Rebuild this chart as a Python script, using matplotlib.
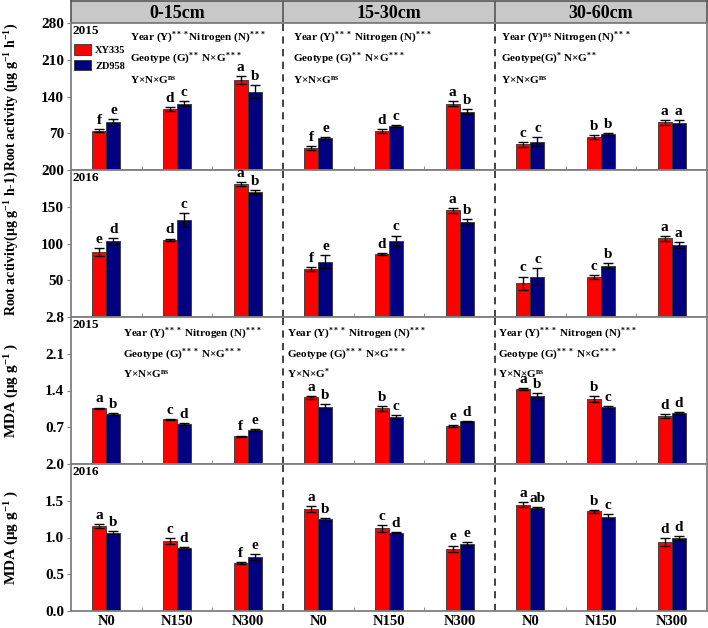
import matplotlib
matplotlib.use("Agg")
import matplotlib.pyplot as plt
import numpy as np

plt.rcParams['font.family'] = ['Liberation Serif', 'DejaVu Serif']
plt.rcParams['font.weight'] = 'bold'
plt.rcParams['mathtext.fontset'] = 'custom'
plt.rcParams['mathtext.rm'] = 'Liberation Serif:bold'
plt.rcParams['mathtext.it'] = 'Liberation Serif:bold'
plt.rcParams['mathtext.bf'] = 'Liberation Serif:bold'

# ---------------- data ----------------
groups = ['N0', 'N150', 'N300']
depths = ['0-15cm', '15-30cm', '30-60cm']
cultivars = ['XY335', 'ZD958']
years = ['2015', '2016', '2015', '2016']

ra2015_xy = [75, 116, 172, 42, 74, 126, 49, 63, 91]
ra2015_zd = [91, 126, 149, 61, 84, 111, 54, 68, 90]
ra2015_xy_err = [3, 3.5, 7.5, 4.4, 4.4, 5, 4.4, 4, 4.4]
ra2015_zd_err = [6, 5, 12, 2.5, 2.5, 4.4, 8.3, 2, 4.4]
ra2015_xy_let = ['f', 'd', 'a', 'f', 'd', 'a', 'c', 'b', 'a']
ra2015_zd_let = ['e', 'c', 'b', 'e', 'c', 'b', 'c', 'b', 'a']

ra2016_xy = [88, 105, 181, 65, 86, 145, 46, 54, 107]
ra2016_zd = [103, 132, 170, 75, 104, 129, 55, 70, 98]
ra2016_xy_err = [5.4, 1.8, 2.3, 2.5, 1.4, 3.4, 9, 2.7, 3.2]
ra2016_zd_err = [4.3, 10, 2.3, 8.8, 6.8, 4, 11.8, 4, 4.5]
ra2016_xy_let = ['e', 'd', 'a', 'f', 'd', 'a', 'c', 'c', 'a']
ra2016_zd_let = ['d', 'c', 'b', 'e', 'c', 'b', 'c', 'b', 'a']

mda2015_xy = [1.06, 0.85, 0.53, 1.27, 1.06, 0.72, 1.43, 1.24, 0.91]
mda2015_zd = [0.95, 0.76, 0.65, 1.09, 0.895, 0.81, 1.295, 1.08, 0.965]
mda2015_xy_err = [0.015, 0.015, 0.012, 0.025, 0.045, 0.02, 0.022, 0.06, 0.041]
mda2015_zd_err = [0.02, 0.015, 0.012, 0.05, 0.038, 0.013, 0.063, 0.025, 0.022]
mda2015_xy_let = ['a', 'c', 'f', 'a', 'b', 'e', 'a', 'b', 'd']
mda2015_zd_let = ['b', 'd', 'e', 'b', 'c', 'd', 'b', 'c', 'd']

mda2016_xy = [1.157, 0.952, 0.657, 1.383, 1.125, 0.848, 1.446, 1.356, 0.943]
mda2016_zd = [1.065, 0.857, 0.735, 1.247, 1.065, 0.907, 1.40, 1.28, 0.99]
mda2016_xy_err = [0.023, 0.036, 0.014, 0.041, 0.05, 0.043, 0.036, 0.016, 0.052]
mda2016_zd_err = [0.02, 0.014, 0.045, 0.018, 0.007, 0.036, 0.016, 0.034, 0.03]
mda2016_xy_let = ['a', 'c', 'f', 'a', 'c', 'e', 'a', 'b', 'd']
mda2016_zd_let = ['b', 'd', 'e', 'b', 'd', 'e', 'ab', 'c', 'd']

ylabels = ['Root activity (μg g$^{-1}$ h$^{-1}$)',
           'Root activity(μg g$^{-1}$ h-1)',
           'MDA (μg g$^{-1}$ )',
           'MDA (μg g$^{-1}$ )']
ylabel_sizes = [10, 10, 11, 11]
ylims = [280, 200, 2.8, 2.0]
yticks = [[70, 140, 210, 280], [50, 100, 150, 200],
          [0.7, 1.4, 2.1, 2.8], [0.0, 0.5, 1.0, 1.5, 2.0]]
ytick_fmt = ['{:.0f}', '{:.0f}', '{:.1f}', '{:.1f}']

stats_root = [
    ['Year (Y)$^{***}$Nitrogen (N)$^{***}$', 'Geotype (G)$^{**}$ N×G$^{***}$', 'Y×N×G$^{ns}$'],
    ['Year (Y)$^{***}$ Nitrogen (N)$^{***}$', 'Geotype (G)$^{**}$ N×G$^{***}$', 'Y×N×G$^{ns}$'],
    ['Year (Y)$^{ns}$ Nitrogen (N)$^{***}$', 'Geotype(G)$^{*}$ N×G$^{**}$', 'Y×N×G$^{ns}$'],
]
stats_mda = [
    ['Year (Y)$^{***}$ Nitrogen (N)$^{***}$', 'Geotype (G)$^{***}$ N×G$^{***}$', 'Y×N×G$^{ns}$'],
    ['Year (Y)$^{***}$ Nitrogen (N)$^{***}$', 'Geotype (G)$^{***}$ N×G$^{***}$', 'Y×N×G$^{*}$'],
    ['Year (Y)$^{***}$ Nitrogen (N)$^{***}$', 'Geotype (G)$^{***}$ N×G$^{***}$', 'Y×N×G$^{ns}$'],
]

rows = [
    (ra2015_xy, ra2015_zd, ra2015_xy_err, ra2015_zd_err, ra2015_xy_let, ra2015_zd_let),
    (ra2016_xy, ra2016_zd, ra2016_xy_err, ra2016_zd_err, ra2016_xy_let, ra2016_zd_let),
    (mda2015_xy, mda2015_zd, mda2015_xy_err, mda2015_zd_err, mda2015_xy_let, mda2015_zd_let),
    (mda2016_xy, mda2016_zd, mda2016_xy_err, mda2016_zd_err, mda2016_xy_let, mda2016_zd_let),
]

RED = '#FF0000'
BLUE = '#000080'
GRAY = '#7f7f7f'

W, H = 708, 628
fig = plt.figure(figsize=(W / 100, H / 100), dpi=100)

left_px, right_px = 71, 707
row_edges = [23, 170, 317, 464, 611]


def fx(px):
    return px / W


def fy(py):
    return 1 - py / H


# header
hax = fig.add_axes([fx(left_px), fy(23), fx(right_px - left_px), (23 - 1) / H])
hax.set_xlim(-0.5, 8.5)
hax.set_ylim(0, 1)
hax.set_facecolor('#c8c8c8')
for s in hax.spines.values():
    s.set_color('#555555')
    s.set_linewidth(1.2)
hax.set_xticks([])
hax.set_yticks([])
for j, d in enumerate(depths):
    hax.text(3 * j + 1, 0.45, d, ha='center', va='center', fontsize=13, fontweight='bold')
    if j > 0:
        hax.axvline(3 * j - 0.5, color='#555555', lw=1.2)

x = np.arange(9)
bw = 0.2
for r in range(4):
    top, bot = row_edges[r], row_edges[r + 1]
    hpx = bot - top
    ax = fig.add_axes([fx(left_px), fy(bot), fx(right_px - left_px), hpx / H])
    xy, zd, xye, zde, xyl, zdl = rows[r]
    b1 = ax.bar(x - bw / 2, xy, bw, color=RED, edgecolor='#333333', linewidth=0.6,
                yerr=xye, capsize=3.5, error_kw=dict(elinewidth=1, capthick=1, ecolor='black'),
                label=cultivars[0], zorder=2)
    b2 = ax.bar(x + bw / 2, zd, bw, color=BLUE, edgecolor='#333333', linewidth=0.6,
                yerr=zde, capsize=3.5, error_kw=dict(elinewidth=1, capthick=1, ecolor='black'),
                label=cultivars[1], zorder=2)
    for i in range(9):
        ax.annotate(xyl[i], (x[i] - bw / 2, xy[i] + xye[i]), xytext=(0, 1.5),
                    textcoords='offset points', ha='center', va='bottom',
                    fontsize=11, fontweight='bold')
        ax.annotate(zdl[i], (x[i] + bw / 2, zd[i] + zde[i]), xytext=(0, 1.5),
                    textcoords='offset points', ha='center', va='bottom',
                    fontsize=11, fontweight='bold')
    ax.set_xlim(-0.5, 8.5)
    ax.set_ylim(0, ylims[r])
    for xv in (2.5, 5.5):
        ax.axvline(xv, color='#333333', lw=1.3, ls=(0, (4, 3)), zorder=1)
    ax.set_yticks(yticks[r])
    ax.set_yticklabels([ytick_fmt[r].format(v) for v in yticks[r]])
    ax.tick_params(axis='y', direction='out', length=3, color=GRAY, labelsize=11, pad=2)
    if r == 3:
        ax.set_xticks(x)
        ax.set_xticklabels(groups * 3)
        ax.tick_params(axis='x', length=0, labelsize=10.5, pad=3)
    else:
        ax.set_xticks([])
    ax.set_xticks([0.5, 1.5, 3.5, 4.5, 6.5, 7.5], minor=True)
    ax.tick_params(axis='x', which='minor', direction='in', length=3, color=GRAY)
    for lab in ax.get_yticklabels() + ax.get_xticklabels():
        lab.set_fontweight('bold')
    for s in ax.spines.values():
        s.set_color(GRAY)
        s.set_linewidth(1.3)
    ax.set_ylabel(ylabels[r], fontsize=ylabel_sizes[r], fontweight='bold')
    ax.yaxis.label.set_va('center')
    ax.yaxis.set_label_coords(-(left_px - 12) / (right_px - left_px), 0.5)
    ax.text(0.003, 0.985, years[r], transform=ax.transAxes, ha='left', va='top',
            fontsize=9.5, fontweight='bold')
    if r == 0:
        ax.legend(handles=[b1, b2], loc='upper left', bbox_to_anchor=(0.002, 0.87),
                  frameon=False, handlelength=1.55, handleheight=1.2,
                  labelspacing=0.45, handletextpad=0.45, borderaxespad=0.0, borderpad=0.2,
                  prop=dict(weight='bold', size=7.5))
    if r in (0, 2):
        stats = stats_root if r == 0 else stats_mda
        xs_px = [130, 293, 501] if r == 0 else [123, 287, 498]
        ys_px = [15, 36, 57] if r == 0 else [17, 38, 57]
        for j in range(3):
            for k in range(3):
                ax.text((xs_px[j] - left_px) / (right_px - left_px),
                        1 - ys_px[k] / hpx, stats[j][k],
                        transform=ax.transAxes, ha='left', va='center',
                        fontsize=8, fontweight='bold')

fig.savefig('out.png', dpi=100)
